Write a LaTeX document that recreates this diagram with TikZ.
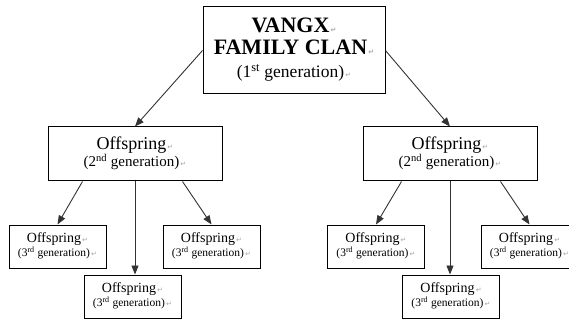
\documentclass[tikz,border=0pt]{standalone}
\usepackage{fontspec}
\setmainfont{Liberation Serif}
\newfontfamily\markfont{DejaVu Sans}
\usetikzlibrary{arrows.meta}
\newcommand{\parmark}{{\markfont\color{gray!70}\fontsize{7}{7}\selectfont\,↵}}
\newcommand{\fs}[2]{\fontsize{#1}{#2}\selectfont}
\tikzset{
  box/.style={draw=black, line width=1pt, fill=white, inner sep=0pt, align=center},
  topbox/.style={box, minimum width=182pt, minimum height=87pt},
  genbox/.style={box, minimum width=174pt, minimum height=54pt},
  leafbox/.style={box, minimum width=97pt, minimum height=43pt},
  link/.style={draw=black!80, line width=0.9pt, -{Triangle[length=9pt,width=7pt]}},
}
\begin{document}
\begin{tikzpicture}[x=1pt,y=-1pt]
\useasboundingbox (0,0) rectangle (569,320);
\clip (0,0) rectangle (569,320);
\node[topbox] (top) at (294,50.5) {\fs{20}{22.5}\begin{tabular}{@{}c@{}}
  \fs{22}{22}\bfseries VANGX\parmark\\
  \fs{22}{22}\bfseries FAMILY CLAN\parmark\\
  \fs{17.5}{22}(1\textsuperscript{st} generation)\parmark
  \end{tabular}};
\node[genbox] (g2l) at (135,154) {\fs{16}{16}\begin{tabular}{@{}c@{}}
  \fs{18}{16}Offspring\parmark\\
  \fs{15}{16}(2\textsuperscript{nd} generation)\parmark
  \end{tabular}};
\node[genbox] (g2r) at (450,154) {\fs{16}{16}\begin{tabular}{@{}c@{}}
  \fs{18}{16}Offspring\parmark\\
  \fs{15}{16}(2\textsuperscript{nd} generation)\parmark
  \end{tabular}};
\foreach \n/\x/\y in {g3a/57.5/246.5, g3b/132.5/296.5, g3c/211.5/246.5, g3d/376/246.5, g3e/451/296.5, g3f/529.5/246.5}{
  \node[leafbox] (\n) at (\x,\y) {\fs{11}{12.5}\begin{tabular}{@{}c@{}}
    \fs{14}{13}Offspring\parmark\\
    \fs{11.5}{13}(3\textsuperscript{rd} generation)\parmark
    \end{tabular}};
}
\draw[link] (top.west) -- (g2l.north);
\draw[link] (top.east) -- (g2r.north);
\draw[link] ([xshift=35pt]g2l.south west) -- (g3a.north);
\draw[link] (g2l.south) -- (g2l.south |- g3b.north);
\draw[link] ([xshift=-40pt]g2l.south east) -- (g3c.north);
\draw[link] ([xshift=39pt]g2r.south west) -- (g3d.north);
\draw[link] (g2r.south) -- (g2r.south |- g3e.north);
\draw[link] ([xshift=-37pt]g2r.south east) -- (g3f.north);
\end{tikzpicture}
\end{document}
